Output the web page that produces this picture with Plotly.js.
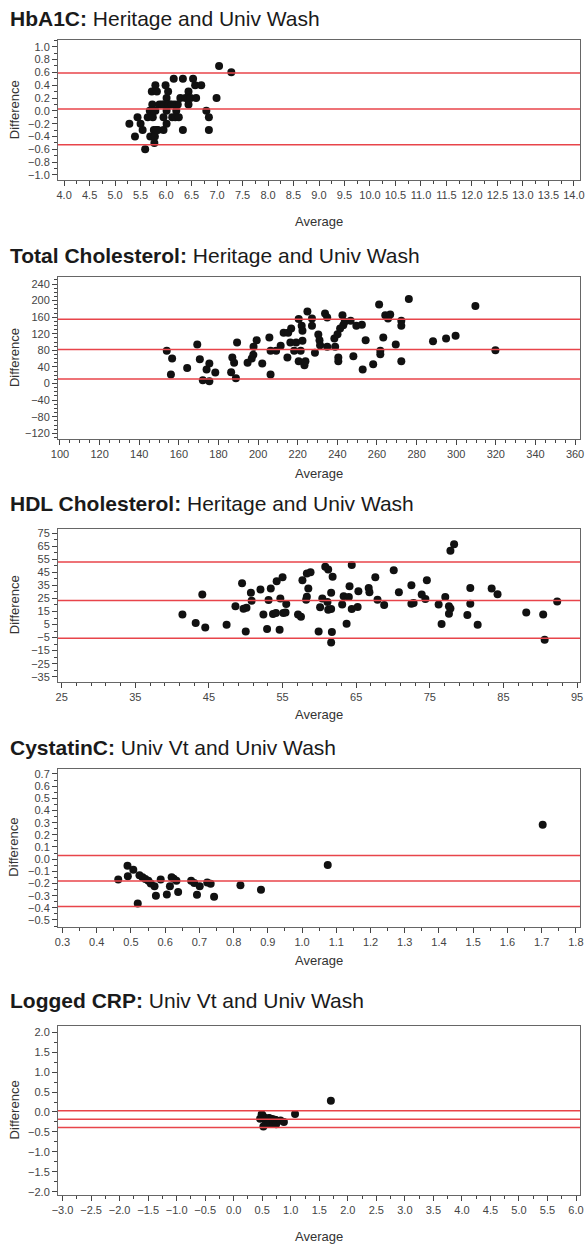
<!DOCTYPE html>
<html>
<head>
<meta charset="utf-8">
<script src="https://cdn.plot.ly/plotly-3.0.1.min.js"></script>
<style>
html,body{margin:0;padding:0;background:#fff;}
#chart{width:587px;height:1248px;}
</style>
</head>
<body>
<div id="chart"></div>
<script>
// ---------- data ----------
const panelTitles = ["HbA1C:", "Total Cholesterol:", "HDL Cholesterol:", "CystatinC:", "Logged CRP:"];
const panelSubtitles = ["Heritage and Univ Wash", "Heritage and Univ Wash", "Heritage and Univ Wash", "Univ Vt and Univ Wash", "Univ Vt and Univ Wash"];

const hbAvg = [5.28,5.39,5.44,5.50,5.54,5.59,5.64,5.68,5.69,5.72,5.73,5.74,5.76,5.77,5.78,5.79,5.79,5.82,5.84,5.87,5.92,5.95,5.95,5.99,6.01,6.01,6.01,6.04,6.07,6.12,6.15,6.17,6.18,6.20,6.23,6.25,6.28,6.33,6.33,6.38,6.43,6.44,6.44,6.48,6.53,6.57,6.59,6.69,6.79,6.84,6.84,6.99,7.04,7.28,5.76,5.81,5.96,6.05,6.11];
const hbDiff = [-0.2,-0.4,-0.1,-0.2,-0.3,-0.6,-0.1,0,-0.4,0.3,0.1,-0.1,-0.3,-0.5,-0.4,0.4,0,0.3,-0.3,0.1,0.1,-0.3,-0.1,0.4,0.2,0,-0.2,0.3,0.1,-0.1,0.5,0.1,-0.1,0,0.1,-0.1,0.2,0.5,-0.3,0.2,0.2,0.3,0.1,0.2,0.5,0.4,0.2,0.4,0,-0.1,-0.3,0.2,0.7,0.6,0.0,-0.3,0.1,0.1,0.1];
const hbLimits = [0.59, 0.03, -0.53];

const tcAvg = [153.9,156.0,156.6,164.2,169.3,170.6,172.1,174.0,175.4,175.4,178.4,186.4,187.0,187.9,188.8,189.4,194.7,196.8,197.6,197.7,199.3,202.1,205.7,206.3,206.3,209.1,211.4,212.9,214.8,215.2,216.3,216.7,218.2,219.2,220.5,220.5,221.5,222.0,222.4,222.4,223.4,223.9,224.9,227.2,227.2,228.7,230.4,231.0,231.3,233.8,234.9,234.9,238.5,238.9,240.1,240.5,240.5,241.4,242.6,243.0,243.7,246.7,248.1,249.6,252.4,252.8,254.3,258.1,261.1,261.7,261.7,263.2,264.2,265.6,266.7,269.5,272.3,272.3,272.3,276.1,288.3,294.9,299.7,309.7,319.8];
const tcDiff = [78.9,21.7,60.4,37.8,94.2,58.8,8.0,33.8,48.3,5.6,26.6,27.4,62.8,49.9,12.9,99.0,49.9,60.4,69.2,88.6,104.7,48.3,111.1,21.7,78.9,78.9,91.0,122.4,62.8,122.4,99.0,132.8,78.9,99.0,155.4,53.9,78.9,139.3,127.2,103.0,44.3,53.9,173.9,157.0,139.3,74.1,118.3,104.7,92.6,169.1,159.4,88.6,108.7,88.6,119.1,62.8,53.9,132.8,165.0,140.9,148.9,151.3,66.0,139.3,141.7,33.8,104.7,46.7,190.8,78.9,70.8,111.1,165.0,157.0,166.6,94.2,151.3,139.3,53.9,203.7,102.2,108.7,115.1,186.8,80.5];
const tcLimits = [155, 82, 11];

const hdlAvg = [41.4,43.2,44.1,44.5,47.4,48.6,49.5,49.7,50.0,50.1,50.7,50.8,52.0,52.4,52.9,53.1,53.4,53.7,54.1,54.2,54.6,54.7,55.0,55.1,55.4,55.5,57.1,57.5,57.7,58.2,58.3,58.3,58.5,58.8,59.9,60.1,60.4,60.8,61.1,61.2,61.2,61.6,61.6,61.7,61.6,61.8,63.1,63.3,63.7,64.0,64.1,64.4,64.4,65.2,65.3,66.7,66.8,67.6,67.9,68.8,70.1,70.8,72.5,72.5,72.8,73.9,74.4,74.6,76.2,76.6,77.1,77.6,77.6,77.8,77.8,78.3,80.1,80.5,80.5,81.5,83.4,84.2,88.1,90.4,90.6,92.3];
const hdlDiff = [12.8,6.1,28.0,2.8,4.8,19.0,36.7,17.2,-0.3,17.9,29.3,23.3,31.8,12.8,1.5,23.9,32.6,13.1,13.8,38.2,1.0,24.9,41.3,13.8,14.3,20.8,12.8,11.0,39.0,24.1,26.4,44.2,32.6,45.2,-0.3,18.2,24.9,49.3,22.3,47.2,16.4,29.3,16.9,-0.8,-8.8,41.6,20.3,26.7,5.6,26.2,34.4,50.6,16.9,18.5,30.5,33.1,29.8,41.3,24.1,20.0,46.7,29.8,35.2,21.0,21.5,28.0,24.6,39.0,20.3,5.4,26.2,19.0,13.3,17.4,61.6,66.5,12.3,33.1,21.0,4.8,32.6,28.2,14.3,12.8,-6.7,22.6];
const hdlLimits = [53, 23.5, -5.5];

const cysAvg = [0.463,0.490,0.491,0.507,0.520,0.525,0.534,0.542,0.551,0.558,0.569,0.573,0.587,0.605,0.614,0.619,0.625,0.633,0.638,0.676,0.685,0.693,0.701,0.723,0.733,0.743,0.820,0.880,1.075,1.703];
const cysDiff = [-0.167,-0.055,-0.140,-0.088,-0.364,-0.132,-0.148,-0.164,-0.178,-0.200,-0.222,-0.301,-0.167,-0.290,-0.222,-0.148,-0.162,-0.178,-0.271,-0.178,-0.197,-0.293,-0.222,-0.192,-0.203,-0.310,-0.214,-0.252,-0.049,0.282];
const cysLimits = [0.03, -0.18, -0.39];

const crpAvg = [0.463,0.490,0.491,0.507,0.520,0.525,0.534,0.542,0.551,0.558,0.569,0.573,0.587,0.605,0.614,0.619,0.625,0.633,0.638,0.676,0.685,0.693,0.701,0.723,0.733,0.743,0.820,0.880,1.075,1.703];
const crpDiff = [-0.167,-0.055,-0.140,-0.088,-0.364,-0.132,-0.148,-0.164,-0.178,-0.200,-0.222,-0.301,-0.167,-0.290,-0.222,-0.148,-0.162,-0.178,-0.271,-0.178,-0.197,-0.293,-0.222,-0.192,-0.203,-0.310,-0.214,-0.252,-0.049,0.282];
const crpLimits = [0.03, -0.18, -0.39];

// ---------- layout config ----------
const W = 587, H = 1248;
const FONT = "Liberation Sans, Arial, sans-serif";
const frameLeft = 58, frameRight = 580;

const panels = [
  {avg: hbAvg, diff: hbDiff, lim: hbLimits, xr:[3.88,14.12], yr:[-1.08,1.1], xd:0.5, xm:0.25, yd:0.2, ym:0.1, x0:4, y0:-1, xf:'.1f', yf:'.1f', top:40.3, bottom:180.1, titleY:18.5, avgY:221},
  {avg: tcAvg, diff: tcDiff, lim: tcLimits, xr:[99,362.5], yr:[-133,256], xd:20, xm:5, yd:40, ym:10, x0:100, y0:-120, xf:'d', yf:'d', top:277.4, bottom:438.7, titleY:255.5, avgY:473},
  {avg: hdlAvg, diff: hdlDiff, lim: hdlLimits, xr:[24.5,95.4], yr:[-39,78.6], xd:10, xm:2, yd:10, ym:5, x0:25, y0:-35, xf:'d', yf:'d', top:528.6, bottom:681.9, titleY:503, avgY:714},
  {avg: cysAvg, diff: cysDiff, lim: cysLimits, xr:[0.287,1.812], yr:[-0.556,0.745], xd:0.1, xm:0.05, yd:0.1, ym:0.05, x0:0.3, y0:-0.5, xf:'.1f', yf:'.1f', top:768.5, bottom:926.8, titleY:747, avgY:960},
  {avg: crpAvg, diff: crpDiff, lim: crpLimits, xr:[-3.08,6.07], yr:[-2.07,2.15], xd:0.5, xm:0.25, yd:0.5, ym:0.25, x0:-3, y0:-2, xf:'.1f', yf:'.1f', top:1026.3, bottom:1194.5, titleY:1000, avgY:1236}
];

const traces = [];
const layout = {
  width: W, height: H,
  margin: {l:0, r:0, t:0, b:0},
  paper_bgcolor: '#fff', plot_bgcolor: '#fff',
  showlegend: false,
  font: {family: FONT, color: '#333'},
  shapes: [], annotations: []
};

panels.forEach((p, i) => {
  const n = i === 0 ? '' : String(i + 1);
  traces.push({
    type: 'scatter', mode: 'markers',
    x: p.avg, y: p.diff,
    xaxis: 'x' + n, yaxis: 'y' + n,
    marker: {color: '#111', size: 8},
    hoverinfo: 'skip'
  });
  const common = {
    showgrid: false, zeroline: false, showline: true, mirror: true,
    linecolor: '#666', linewidth: 1,
    ticks: 'outside', ticklen: 5, tickwidth: 1, tickcolor: '#444',
    tickfont: {family: FONT, size: 11, color: '#444'},
    ticklabeloverflow: 'allow',
    fixedrange: true
  };
  layout['xaxis' + n] = Object.assign({}, common, {
    domain: [frameLeft / W, frameRight / W],
    range: p.xr, anchor: 'y' + n,
    tick0: p.x0, dtick: p.xd, tickformat: p.xf,
    minor: {dtick: p.xm, tick0: p.x0, ticks: 'outside', ticklen: 3, tickcolor: '#444', showgrid: false}
  });
  layout['yaxis' + n] = Object.assign({}, common, {
    domain: [1 - p.bottom / H, 1 - p.top / H],
    range: p.yr, anchor: 'x' + n,
    tick0: p.y0, dtick: p.yd, tickformat: p.yf,
    minor: {dtick: p.ym, tick0: p.y0, ticks: 'outside', ticklen: 3, tickcolor: '#444', showgrid: false}
  });
  p.lim.forEach(v => {
    layout.shapes.push({
      type: 'line', xref: 'x' + n + ' domain', yref: 'y' + n,
      x0: 0, x1: 1, y0: v, y1: v,
      line: {color: '#e8444a', width: 1.5}
    });
  });
  layout.annotations.push({
    xref: 'paper', yref: 'paper', x: 8 / W, y: 1 - p.titleY / H,
    xanchor: 'left', yanchor: 'middle', showarrow: false,
    text: '<b>' + panelTitles[i] + '</b> ' + panelSubtitles[i],
    font: {family: FONT, size: 21, color: '#1a1a1a'}
  });
  layout.annotations.push({
    xref: 'paper', yref: 'paper', x: (frameLeft + frameRight) / 2 / W, y: 1 - p.avgY / H,
    xanchor: 'center', yanchor: 'middle', showarrow: false,
    text: 'Average',
    font: {family: FONT, size: 13, color: '#333'}
  });
  layout.annotations.push({
    xref: 'paper', yref: 'paper', x: 14 / W, y: 1 - (p.top + p.bottom) / 2 / H,
    xanchor: 'center', yanchor: 'middle', showarrow: false, textangle: -90,
    text: 'Difference',
    font: {family: FONT, size: 13, color: '#333'}
  });
});

Plotly.newPlot('chart', traces, layout, {staticPlot: true, displayModeBar: false});
</script>
</body>
</html>
